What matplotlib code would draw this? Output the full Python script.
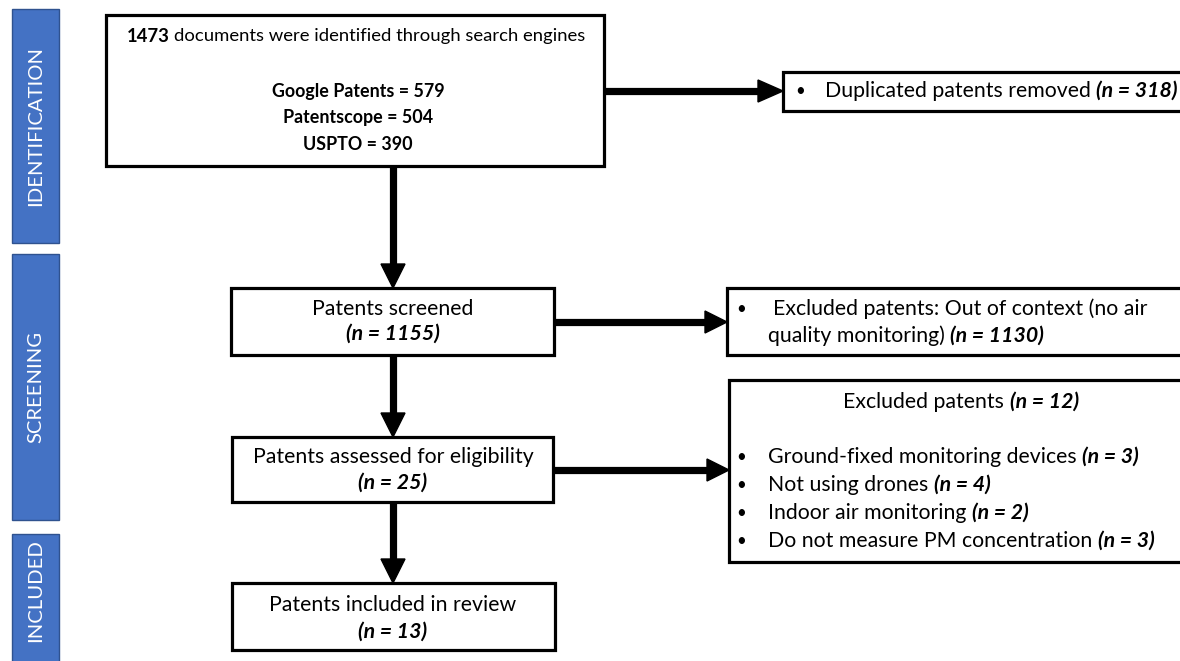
import matplotlib
matplotlib.use("Agg")
import matplotlib.pyplot as plt
from matplotlib.patches import Rectangle, Polygon

# ---------------- data ----------------
stages = ["IDENTIFICATION", "SCREENING", "INCLUDED"]
total_identified = 1473
sources = ["Google Patents", "Patentscope", "USPTO"]
source_counts = [579, 504, 390]
duplicates_removed = 318
screened = 1155
excluded_context = 1130
assessed = 25
excluded_eligibility = 12
exclusion_reasons = ["Ground-fixed monitoring devices", "Not using drones",
                     "Indoor air monitoring", "Do not measure PM concentration"]
exclusion_counts = [3, 4, 2, 3]
included = 13

FONT = ["Lato", "DejaVu Sans"]
FS = 15.3
FS_TOP = 13.3
FS_TOP_B = 12.9
BLUE = "#4472C4"
BLUE_EDGE = "#2F528F"

W, H = 1180, 661
fig = plt.figure(figsize=(W / 100, H / 100), dpi=100)
ax = fig.add_axes([0, 0, 1, 1])
ax.set_xlim(0, W)
ax.set_ylim(H, 0)
ax.axis("off")
renderer = fig.canvas.get_renderer()


def _mk(t, y, weight, style, size):
    return ax.text(0, y, t, fontsize=size, fontweight=weight, fontstyle=style,
                   va="center", ha="left", family=FONT, color="black", zorder=5)


def space_w(size):
    a = _mk("aa", 0, "normal", "normal", size)
    b = _mk("a a", 0, "normal", "normal", size)
    w = b.get_window_extent(renderer).width - a.get_window_extent(renderer).width
    a.remove(); b.remove()
    return w


def runs(x, y, parts, ha="center", size=FS):
    """parts: list of (text, weight, style); separated by one space."""
    sw = space_w(size)
    objs, widths = [], []
    for t, wgt, sty in parts:
        o = _mk(t, y, wgt, sty, size)
        objs.append(o)
        widths.append(o.get_window_extent(renderer).width)
    total = sum(widths) + sw * (len(parts) - 1)
    cur = x - total / 2 if ha == "center" else x
    for o, w in zip(objs, widths):
        o.set_x(cur)
        cur += w + sw


def box(x0, y0, x1, y1):
    ax.add_patch(Rectangle((x0, y0), x1 - x0, y1 - y0, facecolor="white",
                           edgecolor="black", linewidth=2.3, zorder=3))


def arrow(x0, y0, x1, y1, head_len=24, head_half=12):
    if x0 == x1:  # vertical, downward
        ax.plot([x0, x0], [y0, y1 - head_len + 2], color="black", lw=5.2,
                solid_capstyle="butt", zorder=2)
        ax.add_patch(Polygon([(x1 - head_half, y1 - head_len), (x1 + head_half, y1 - head_len),
                              (x1, y1)], closed=True, color="black", zorder=2))
    else:  # horizontal, rightward
        ax.plot([x0, x1 - head_len + 2], [y0, y0], color="black", lw=5.2,
                solid_capstyle="butt", zorder=2)
        ax.add_patch(Polygon([(x1 - head_len, y1 - head_half), (x1 - head_len, y1 + head_half),
                              (x1, y1)], closed=True, color="black", zorder=2))


def bullet(x, y):
    ax.text(x, y, "\u2022", fontsize=FS * 0.8, family=FONT, va="center", ha="center", zorder=5)


# ---------------- stage bars ----------------
bars = [(9, 243), (254, 520), (534, 670)]
for (y0, y1), lab in zip(bars, stages):
    ax.add_patch(Rectangle((12, y0), 47, y1 - y0, facecolor=BLUE, edgecolor=BLUE_EDGE,
                           linewidth=1.0, zorder=3))
    ax.text(36, (y0 + min(y1, 648)) / 2, lab, rotation=90, color="white", fontsize=14.6,
            family=FONT, ha="center", va="center", zorder=5)

# ---------------- arrows ----------------
arrow(393, 166, 393, 288)
arrow(393, 355, 393, 437)
arrow(393, 502, 393, 583)
arrow(604, 91, 783, 91, head_len=25, head_half=11)
arrow(554, 322, 727, 322, head_len=22, head_half=11)
arrow(553, 470, 729, 470, head_len=22, head_half=11)

# ---------------- boxes ----------------
box(106, 15, 604, 166)
box(783, 72, 1195, 111)
box(231, 288, 554, 355)
box(727, 288, 1195, 355)
box(232, 437, 553, 502)
box(729, 380, 1195, 562)
box(232, 583, 555, 650)

# identification box text
runs(356, 36, [(str(total_identified), "bold", "normal"),
               ("documents were identified through search engines", "normal", "normal")],
     size=FS_TOP)
for i, (s, c) in enumerate(zip(sources, source_counts)):
    runs(358, 91 + i * 27, [(f"{s} = {c}", "bold", "normal")], size=FS_TOP_B)

# duplicates
bullet(800, 91)
runs(825, 91, [("Duplicated patents removed", "normal", "normal"),
               (f"(n = {duplicates_removed})", "bold", "italic")], ha="left")

# screening
runs(393, 309, [("Patents screened", "normal", "normal")])
runs(393, 334, [(f"(n = {screened})", "bold", "italic")])

bullet(741, 309)
runs(773, 309, [("Excluded patents: Out of context (no air", "normal", "normal")], ha="left")
runs(768, 336, [("quality monitoring)", "normal", "normal"),
                (f"(n = {excluded_context})", "bold", "italic")], ha="left")

# eligibility
runs(393, 457, [("Patents assessed for eligibility", "normal", "normal")])
runs(393, 483, [(f"(n = {assessed})", "bold", "italic")])

runs(961, 402, [("Excluded patents", "normal", "normal"),
                (f"(n = {excluded_eligibility})", "bold", "italic")])
for i, (r, c) in enumerate(zip(exclusion_reasons, exclusion_counts)):
    y = 457 + i * 28
    bullet(741, y)
    runs(768, y, [(r, "normal", "normal"), (f"(n = {c})", "bold", "italic")], ha="left")

# included
runs(393, 605, [("Patents included in review", "normal", "normal")])
runs(393, 632, [(f"(n = {included})", "bold", "italic")])

fig.savefig("out.png", dpi=100)
